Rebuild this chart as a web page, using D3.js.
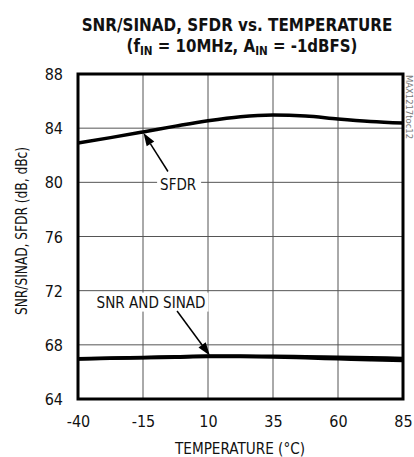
<!DOCTYPE html>
<html>
<head>
<meta charset="utf-8">
<script src="https://cdn.jsdelivr.net/npm/d3@7"></script>
<style>
  html, body { margin: 0; padding: 0; background: #fff; }
  svg { display: block; }
  text { font-family: "DejaVu Sans Condensed", "Liberation Sans Narrow", "Roboto", sans-serif; font-stretch: condensed; fill: #111; }
</style>
</head>
<body>
<svg id="chart" width="414" height="457"></svg>
<script>
// ---- data ----
const temps = [-40, -27.5, -15, -2.5, 10, 22.5, 35, 47.5, 60, 72.5, 85];
const sfdr  = [82.9, 83.3, 83.72, 84.15, 84.55, 84.85, 84.97, 84.9, 84.68, 84.5, 84.38];
const snr   = [66.98, 67.02, 67.07, 67.12, 67.17, 67.17, 67.15, 67.12, 67.08, 67.04, 67.0];
const sinad = [66.95, 67.0, 67.04, 67.09, 67.14, 67.13, 67.1, 67.04, 66.97, 66.9, 66.84];
const xTicks = [-40, -15, 10, 35, 60, 85];
const yTicks = [64, 68, 72, 76, 80, 84, 88];

const svg = d3.select("#chart");
const x = d3.scaleLinear().domain([-40, 85]).range([78, 403]);
const y = d3.scaleLinear().domain([64, 88]).range([399, 74]);
const FF = "'DejaVu Sans Condensed', 'Liberation Sans Narrow', sans-serif";

// fit a text to a target width by horizontal scaling around its centre
function fitWidth(sel, cx, cy, w) {
  const bb = sel.node().getBBox();
  const s = w / bb.width;
  sel.attr("x", 0).attr("y", 0).attr("transform", `translate(${cx},${cy}) scale(${s},1)`);
}

// title
const title = svg.append("g");
const t1 = title.append("text").attr("text-anchor", "middle")
  .attr("font-size", 18).attr("font-weight", "bold")
  .text("SNR/SINAD, SFDR vs. TEMPERATURE");
fitWidth(t1, 237, 30.5, 311);
const t2 = title.append("text").attr("text-anchor", "middle")
  .attr("font-size", 18).attr("font-weight", "bold");
t2.append("tspan").text("(f");
t2.append("tspan").attr("font-size", 12.5).attr("dy", 3).text("IN");
t2.append("tspan").attr("dy", -3).text(" = 10MHz, A");
t2.append("tspan").attr("font-size", 12.5).attr("dy", 3).text("IN");
t2.append("tspan").attr("dy", -3).text(" = -1dBFS)");
fitWidth(t2, 242, 51.5, 231);

// gridlines
const grid = svg.append("g").attr("stroke", "#555").attr("stroke-width", 1);
grid.selectAll("line.v").data(xTicks.slice(1, -1)).join("line")
  .attr("x1", d => x(d)).attr("x2", d => x(d)).attr("y1", y(88)).attr("y2", y(64));
grid.selectAll("line.h").data(yTicks.slice(1, -1)).join("line")
  .attr("x1", x(-40)).attr("x2", x(85)).attr("y1", d => y(d)).attr("y2", d => y(d));

// axes (labels only)
const xAxis = d3.axisBottom(x).tickValues(xTicks).tickSize(0).tickPadding(0).tickFormat(d => String(d));
const gx = svg.append("g").attr("transform", `translate(0,${y(64)})`).call(xAxis);
gx.select(".domain").remove();
gx.selectAll("text").attr("font-size", 16).attr("dy", 0).attr("y", 28).attr("fill", "#111");

const yAxis = d3.axisLeft(y).tickValues(yTicks).tickSize(0).tickPadding(0).tickFormat(d => String(d));
const gy = svg.append("g").attr("transform", `translate(${x(-40)},0)`).call(yAxis);
gy.select(".domain").remove();
gy.selectAll("text").attr("font-size", 16).attr("x", -15).attr("dy", "0.35em").attr("fill", "#111");
svg.selectAll(".tick text").attr("font-family", null).style("font-family", FF);
svg.selectAll(".tick line").remove();

// axis titles
svg.append("text").attr("x", 240).attr("y", 454).attr("text-anchor", "middle")
  .attr("font-size", 16).attr("textLength", 130).attr("lengthAdjust", "spacingAndGlyphs")
  .text("TEMPERATURE (°C)");
svg.append("text").attr("transform", "translate(27,231) rotate(-90)").attr("text-anchor", "middle")
  .attr("font-size", 16).attr("textLength", 168).attr("lengthAdjust", "spacingAndGlyphs")
  .text("SNR/SINAD, SFDR (dB, dBc)");

// watermark
svg.append("text").attr("transform", "translate(406,75) rotate(90)")
  .attr("font-size", 9).attr("textLength", 64).attr("lengthAdjust", "spacingAndGlyphs")
  .style("fill", "#777").text("MAX1217toc12");

// series
const line = vals => d3.line().x((d, i) => x(temps[i])).y(d => y(d)).curve(d3.curveMonotoneX)(vals);
svg.append("path").attr("d", line(sfdr)).attr("fill", "none").attr("stroke", "#000").attr("stroke-width", 3.5);
svg.append("path").attr("d", line(snr)).attr("fill", "none").attr("stroke", "#000").attr("stroke-width", 3.5);
svg.append("path").attr("d", line(sinad)).attr("fill", "none").attr("stroke", "#000").attr("stroke-width", 3.5);

// annotations (in data units)
function arrow(from, to) {
  const x1 = x(from[0]), y1 = y(from[1]), x2 = x(to[0]), y2 = y(to[1]);
  const ang = Math.atan2(y2 - y1, x2 - x1);
  const L = 13, W = 4.5;
  const bx = x2 - L * Math.cos(ang), by = y2 - L * Math.sin(ang);
  svg.append("line").attr("x1", x1).attr("y1", y1).attr("x2", bx).attr("y2", by)
    .attr("stroke", "#000").attr("stroke-width", 1.5);
  const p = [[x2, y2],
    [bx + W * Math.sin(ang), by - W * Math.cos(ang)],
    [bx - W * Math.sin(ang), by + W * Math.cos(ang)]];
  svg.append("path").attr("d", "M" + p.map(d => d.join(",")).join("L") + "Z").attr("fill", "#000");
}
function label(txt, cx, cyBase, len, padL, padR) {
  const g = svg.append("g");
  const r = g.append("rect").attr("fill", "#fff");
  const t = g.append("text").attr("x", x(cx)).attr("y", y(cyBase)).attr("text-anchor", "middle")
    .attr("font-size", 16).attr("textLength", len).attr("lengthAdjust", "spacingAndGlyphs").text(txt);
  const bb = t.node().getBBox();
  r.attr("x", bb.x - padL).attr("y", bb.y).attr("width", bb.width + padL + padR).attr("height", bb.height);
}
label("SFDR", -1.5, 79.45, 36, 3, 5);
arrow([-5.4, 80.8], [-14.8, 83.65]);
label("SNR AND SINAD", -11.9, 70.75, 109, 4, 3);
arrow([-1.9, 70.5], [10.7, 67.22]);

// frame
svg.append("rect").attr("x", x(-40)).attr("y", y(88)).attr("width", x(85) - x(-40)).attr("height", y(64) - y(88))
  .attr("fill", "none").attr("stroke", "#000").attr("stroke-width", 3);
</script>
</body>
</html>
